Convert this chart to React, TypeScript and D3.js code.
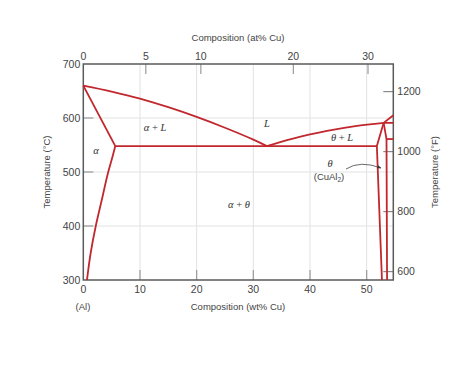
import React from "react";
import * as d3 from "d3";

const wtTicks = [0, 10, 20, 30, 40, 50];
const atTicks = [0, 5, 10, 20, 30];
const cTicks = [300, 400, 500, 600, 700];
const fTicks = [600, 800, 1000, 1200];
const gridC = [400, 500, 600];
const gridWt = [10, 20, 30, 40, 50];

// phase boundaries (wt% Cu, °C)
const liquidusLeft: [number, number][] = [[0, 660], [5, 649], [10, 636], [15, 620], [20, 602], [25, 582], [30, 560], [32.4, 548]];
const liquidusRight: [number, number][] = [[32.4, 548], [37, 562], [43, 576], [48, 585], [53.0, 591]];
const liquidusTop: [number, number][] = [[53.0, 591], [54.7, 605]];
const solidusAlpha: [number, number][] = [[0, 660], [5.65, 548]];
const solvusAlpha: [number, number][] = [[0.65, 300], [1.3, 350], [2.2, 400], [3.3, 450], [4.4, 500], [5.2, 530], [5.65, 548]];
const eutectic: [number, number][] = [[5.65, 548], [51.8, 548]];
const thetaLeft: [number, number][] = [[53.0, 591], [51.8, 548], [52.7, 300]];
const thetaRight: [number, number][] = [[53.0, 591], [53.5, 561], [53.6, 300]];
const peritectic: [number, number][] = [[53.0, 591], [54.7, 591]];
const upperLine: [number, number][] = [[53.5, 561], [54.7, 561]];

const W = 474, H = 389;
const x = d3.scaleLinear().domain([0, 54.7]).range([83.3, 393.3]);
const y = d3.scaleLinear().domain([300, 700]).range([280, 64]);
const f2c = (f: number) => (f - 32) * 5 / 9;
const at2wt = (a: number) => (a * 63.55) / (a * 63.55 + (100 - a) * 26.98) * 100;

const RED = "#c1272d";
const AX = "#5a5a5a";
const SANS = "'Liberation Sans', Arial, sans-serif";
const SERIF = "'Liberation Serif', 'Times New Roman', serif";

export default function App() {
  const line = d3.line<[number, number]>().x(d => x(d[0])).y(d => y(d[1]));
  const smooth = d3.line<[number, number]>().x(d => x(d[0])).y(d => y(d[1])).curve(d3.curveCatmullRom.alpha(0.5));
  const curveY = d3.line<[number, number]>().x(d => x(d[0])).y(d => y(d[1])).curve(d3.curveMonotoneY);
  const [x0, x1] = x.range();
  const [yb, yt] = y.range();
  const tickLen = 10;
  return (
    <svg width={W} height={H} style={{ position: "absolute", left: 0, top: 0 }}>
      <rect width={W} height={H} fill="#fff" />
      {/* grid */}
      {gridWt.map(t => (
        <line key={"gx" + t} x1={x(t)} x2={x(t)} y1={yt} y2={yb} stroke="#e2e2e2" strokeWidth={1} />
      ))}
      {gridC.map(t => (
        <line key={"gy" + t} x1={x0} x2={x1} y1={y(t)} y2={y(t)} stroke="#e2e2e2" strokeWidth={1} />
      ))}
      {/* inward ticks */}
      {gridWt.map(t => (
        <line key={"bt" + t} x1={x(t)} x2={x(t)} y1={yb} y2={yb - tickLen} stroke="#9a9a9a" strokeWidth={1.2} />
      ))}
      {gridC.map(t => (
        <line key={"lt" + t} x1={x0} x2={x0 + tickLen} y1={y(t)} y2={y(t)} stroke="#9a9a9a" strokeWidth={1.2} />
      ))}
      {atTicks.filter(a => a > 0).map(a => (
        <line key={"tt" + a} x1={x(at2wt(a))} x2={x(at2wt(a))} y1={yt} y2={yt + tickLen} stroke="#9a9a9a" strokeWidth={1.2} />
      ))}
      {fTicks.map(f => (
        <line key={"rt" + f} x1={x1} x2={x1 - tickLen} y1={y(f2c(f))} y2={y(f2c(f))} stroke="#8a8a8a" strokeWidth={1.2} />
      ))}
      {/* frame */}
      <rect x={x0} y={yt} width={x1 - x0} height={yb - yt} fill="none" stroke={AX} strokeWidth={1.5} />

      {/* phase boundaries */}
      <g fill="none" stroke={RED} strokeWidth={1.8} strokeLinejoin="round">
        <path d={smooth(liquidusLeft) || ""} />
        <path d={smooth(liquidusRight) || ""} />
        <path d={line(liquidusTop) || ""} />
        <path d={line(solidusAlpha) || ""} />
        <path d={curveY(solvusAlpha) || ""} />
        <path d={line(eutectic) || ""} />
        <path d={line(thetaLeft) || ""} />
        <path d={line(thetaRight) || ""} />
        <path d={line(peritectic) || ""} />
        <path d={line(upperLine) || ""} />
      </g>

      {/* tick labels */}
      <g fontFamily={SANS} fontSize={10.5} fill="#444">
        {wtTicks.map(t => (
          <text key={"bl" + t} x={x(t)} y={yb + 12.5} textAnchor="middle">{t}</text>
        ))}
        {atTicks.map(a => (
          <text key={"tl" + a} x={x(at2wt(a))} y={yt - 4} textAnchor="middle">{a}</text>
        ))}
        {cTicks.map(t => (
          <text key={"ll" + t} x={x0 - 3} y={y(t) + 3.5} textAnchor="end">{t}</text>
        ))}
        {fTicks.map(f => (
          <text key={"rl" + f} x={x1 + 4} y={y(f2c(f)) + 3.5} textAnchor="start">{f}</text>
        ))}
      </g>

      {/* axis titles */}
      <g fontFamily={SANS} fontSize={9.5} fill="#444">
        <text x={238} y={41} textAnchor="middle">Composition (at% Cu)</text>
        <text x={238} y={310} textAnchor="middle">Composition (wt% Cu)</text>
        <text x={83} y={310} textAnchor="middle">(Al)</text>
        <text transform={`translate(50,172) rotate(-90)`} textAnchor="middle">Temperature (°C)</text>
        <text transform={`translate(438,172) rotate(-90)`} textAnchor="middle">Temperature (°F)</text>
      </g>

      {/* region labels */}
      <g fontFamily={SERIF} fontSize={10.5} fill="#333" fontStyle="italic">
        <text x={96} y={154} textAnchor="middle">α</text>
        <text x={155} y={130.5} textAnchor="middle">α <tspan fontStyle="normal">+</tspan> L</text>
        <text x={267} y={127} textAnchor="middle">L</text>
        <text x={342} y={141} textAnchor="middle">θ <tspan fontStyle="normal">+</tspan> L</text>
        <text x={330} y={167} textAnchor="middle">θ</text>
        <text x={239} y={207.5} textAnchor="middle">α <tspan fontStyle="normal">+</tspan> θ</text>
      </g>
      <text x={329} y={179.5} textAnchor="middle" fontFamily={SANS} fontSize={9.5} fill="#444">
        (CuAl<tspan fontSize={6.5} dy={2}>2</tspan><tspan dy={-2}>)</tspan>
      </text>

      {/* arrow */}
      <defs>
        <marker id="ah" viewBox="0 0 10 10" refX="9" refY="5" markerWidth="5" markerHeight="5" orient="auto">
          <path d="M0,1 L10,5 L0,9 z" fill="#333" />
        </marker>
      </defs>
      <path d="M346,169 Q360,160 381,168" fill="none" stroke="#444" strokeWidth={0.8} markerEnd="url(#ah)" />
    </svg>
  );
}
